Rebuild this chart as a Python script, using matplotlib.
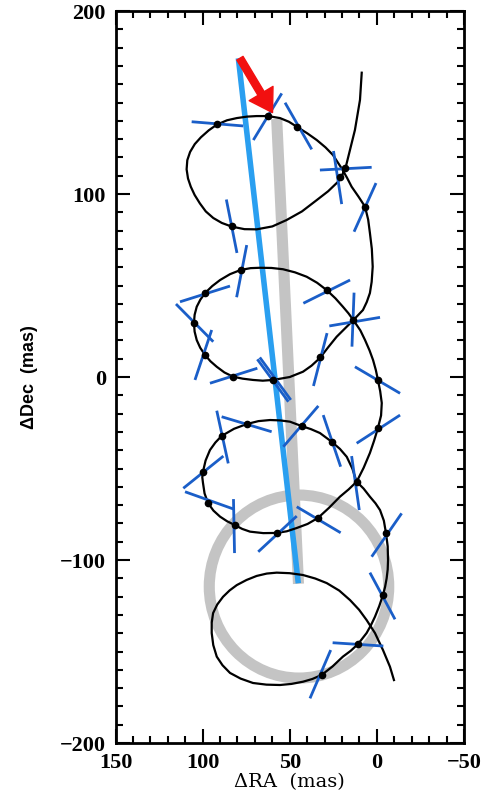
import numpy as np
import matplotlib
matplotlib.use("Agg")
import matplotlib.pyplot as plt
from matplotlib.patches import Ellipse
from matplotlib.ticker import MultipleLocator

# ------------------------------------------------------------
# data (mas)
# ------------------------------------------------------------
# model track (parallax + proper motion + orbit), read point by point
model_ra = [8.7, 9.7, 12.6, 16.4, 18.3, 22.3, 28.0, 34.5, 43.0, 51.8, 60.0, 69.0, 76.0, 83.3,
            89.0, 93.9, 98.2, 101.6, 104.6, 106.8, 108.4, 109.2, 108.8, 107.2, 104.5, 101.0,
            96.5, 91.9, 86.0, 80.4, 74.5, 69.0, 62.5, 55.6, 50.5, 46.0, 40.0, 34.5, 29.5, 25.2,
            20.2, 17.2, 14.5, 10.5, 6.8, 5.0, 4.0, 2.9, 2.4, 3.0, 4.0, 5.8, 8.0, 13.5,
            18.0, 23.1, 28.0, 32.7, 37.5, 42.4, 50.0, 59.6, 65.5, 71.1, 77.0, 82.6, 87.5, 91.9,
            95.5, 98.6, 101.4, 103.4, 104.6, 105.0, 104.6, 103.4, 101.3, 98.6, 94.5, 90.0, 84.3,
            78.2, 72.5, 67.1, 60.5, 53.9, 47.0, 40.3, 34.3, 28.8, 23.8, 19.5, 16.3, 13.5, 9.5,
            6.8, 4.2, 2.2, 0.6, -0.6, -1.9, -2.8, -2.4, -0.6, 1.6, 4.0, 7.6, 11.6,
            16.2, 21.2, 27.5, 33.8, 39.8, 46.0, 51.7, 57.5, 65.2, 72.8, 77.3, 81.5, 86.0, 90.0,
            93.8, 96.9, 98.9, 99.8, 100.2, 99.8, 98.3, 95.8, 92.7, 89.1, 82.0, 74.7, 68.0, 61.3,
            55.6, 49.9, 43.2, 37.8, 32.7, 25.9, 21.2, 17.3, 14.1, 11.6,
            7.6, 4.0, 0.8, -1.8, -4.0, -5.2, -6.2, -6.4, -6.2, -5.6, -4.7, -3.5, -1.3, 1.1, 3.4,
            5.9, 10.8, 15.0, 19.5, 25.5, 31.7, 37.0, 42.4, 49.0, 55.6, 63.4, 71.1, 78.2, 84.3,
            88.6, 91.9, 93.9, 94.8, 94.8, 94.0, 91.6, 88.3, 84.5, 80.4, 74.8, 69.0, 63.2, 57.5,
            50.0, 42.4, 35.4, 28.8, 21.6, 15.4, 10.2, 5.9, 1.1, -3.5, -7.5, -9.8]
model_dec = [166.3, 151.4, 135.0, 120.4, 113.1, 106.7, 101.5, 96.7, 90.5, 85.8, 82.3, 80.7, 80.8,
             82.2, 84.2, 86.9, 90.5, 94.9, 99.5, 104.0, 108.5, 113.5, 118.5, 123.0, 127.3, 131.0,
             134.8, 137.9, 140.3, 141.5, 142.3, 142.6, 142.6, 141.5, 139.5, 136.8, 133.2, 129.5,
             125.5, 121.3, 114.0, 109.0, 104.0, 98.5, 93.1, 86.0, 78.7, 70.0, 60.3, 52.0, 45.9,
             41.0, 36.6, 31.1,
             26.8, 22.0, 16.2, 10.4, 6.2, 2.9, 0.0, -1.6, -2.0, -1.6, -0.9, 0.2, 2.5, 5.6, 8.6,
             12.0, 16.0, 20.2, 24.8, 29.5, 34.0, 38.4, 42.3, 45.9, 49.7, 53.0, 56.2, 58.5, 59.5,
             59.7, 59.6, 58.9, 57.2, 54.8, 51.5, 47.5, 43.0, 38.4, 34.8, 31.1, 25.5, 20.2, 14.5,
             9.3, 3.8, -1.6, -7.8, -14.2, -21.0, -27.9, -34.8, -41.5, -49.6, -57.2,
             -61.4, -65.4, -71.5, -77.0, -80.3, -82.5, -84.3, -85.2, -85.3, -84.5, -83.0, -80.9,
             -78.8, -76.3, -73.0, -68.9, -63.6, -57.9, -54.8, -51.7, -45.6, -39.9, -35.8, -32.2,
             -28.3, -25.7, -24.1, -23.5, -23.7, -24.4, -26.8, -28.5, -30.6, -35.4, -39.3, -43.6,
             -50.0, -57.2,
             -61.0, -65.4, -69.0, -72.7, -78.5, -85.2, -92.5, -100.0, -105.2, -110.0, -114.7,
             -119.1, -125.3, -131.0, -135.6, -139.9, -145.9, -149.6, -152.8, -158.2, -162.8,
             -165.0, -166.5, -167.7, -168.3, -168.1, -167.2, -164.8, -161.7, -157.5, -152.8,
             -146.5, -139.9, -134.3, -129.0, -124.3, -120.1, -116.6, -113.7, -110.9, -108.7,
             -107.4, -106.9, -107.2, -108.2, -110.1, -112.6, -116.7, -121.9, -127.2, -132.8,
             -139.9, -149.2, -158.3, -165.6]

# epochs on the model track
epoch_ra = [91.9, 62.3, 46.0, 18.3, 21.2, 6.8, 83.3, 78.2, 98.6, 105.0, 28.8, 13.5, 98.6, 32.7,
            82.4, 59.5, -0.8, 74.7, 43.2, 89.1, 25.9, -0.8, 99.6, 11.6, 96.7, 81.4, 57.5, 33.6,
            -5.2, -3.7, 10.7, 31.7]
epoch_dec = [138.3, 142.6, 136.8, 114.0, 109.3, 93.1, 82.3, 58.5, 45.7, 29.3, 47.5, 31.1, 12.0,
             11.1, -0.2, -1.6, -1.6, -25.7, -26.8, -32.2, -35.4, -28.0, -51.7, -57.2, -69.0,
             -80.9, -85.4, -77.2, -85.4, -119.1, -145.9, -162.8]

# 1-D measurement bars (start / end)
bar_ra1 = [106.3, 70.9, 52.7, 32.7, 24.9, 0.5, 86.4, 74.7, 113.0, 115.3, 42.2, 13.1, 27.3, 94.8,
           28.6, 95.8, 68.6, 67.2, 12.6, 89.1, 33.6, 91.9, 30.8, -13.3, 111.1, 14.5, 110.1, 82.3,
           68.1, 46.0, -14.2, 4.0, 25.4, 26.5]
bar_dec1 = [139.5, 129.5, 149.9, 113.1, 123.5, 106.0, 97.0, 72.1, 41.1, 39.9, 40.3, 46.1, 27.9,
            25.7, 24.0, -3.4, 9.7, 10.7, 5.6, -21.7, -15.8, -18.4, -20.8, -20.8, -60.8, -43.2,
            -62.7, -66.7, -95.5, -70.9, -74.5, -106.9, -145.2, -149.2]
bar_ra2 = [76.7, 54.6, 37.4, 3.0, 20.2, 13.1, 80.3, 80.5, 84.3, 93.9, 15.4, 14.3, -1.8, 104.4,
           36.4, 68.6, 50.8, 49.4, -13.3, 60.4, 53.7, 85.3, 20.8, 11.6, 88.1, 10.1, 82.4, 81.7,
           46.0, 20.8, 3.0, -10.4, -3.7, 38.4]
bar_dec2 = [137.2, 155.0, 124.4, 114.6, 94.5, 79.4, 67.8, 43.6, 49.7, 19.3, 53.0, 16.6, 32.6,
            -1.6, -4.9, 4.8, -13.5, -12.5, -8.9, -29.9, -38.1, -47.2, -49.0, -36.2, -43.2,
            -72.7, -72.1, -96.2, -76.0, -85.1, -98.2, -132.4, -147.0, -175.6]

# proper motion vectors and the orbit ring
pm_fit_ra = [79.5, 45.1]
pm_fit_dec = [174.2, -112.7]
pm_alt_ra = [57.5, 45.0]
pm_alt_dec = [141.0, -113.0]
ring_center = (44.7, -114.5)
ring_width, ring_height = 103.0, 100.0
arrow_tail = (78.6, 174.2)
arrow_tip = (59.9, 144.5)

# ------------------------------------------------------------
# plot
# ------------------------------------------------------------
fig = plt.figure(figsize=(4.96, 8.05), dpi=100)
ax = fig.add_axes([0.2329, 0.0770, 0.7026, 0.9093])

ax.add_patch(Ellipse(ring_center, ring_width, ring_height, fill=False,
                     edgecolor="#c4c4c4", lw=8, zorder=1))
ax.plot(pm_alt_ra, pm_alt_dec, color="#c4c4c4", lw=8, solid_capstyle="butt", zorder=1)
ax.plot(pm_fit_ra, pm_fit_dec, color="#2a9ff0", lw=4, solid_capstyle="butt", zorder=2)

ax.plot(model_ra, model_dec, color="black", lw=1.6, zorder=3,
        solid_joinstyle="round", antialiased=True)

for x1, y1, x2, y2 in zip(bar_ra1, bar_dec1, bar_ra2, bar_dec2):
    ax.plot([x1, x2], [y1, y2], color="#1a5ec8", lw=2.0, solid_capstyle="butt", zorder=4)

ax.plot(epoch_ra, epoch_dec, "o", color="black", ms=4.5, zorder=5)

ax.annotate("", xy=arrow_tip, xytext=arrow_tail,
            arrowprops=dict(arrowstyle="simple,head_length=0.8,head_width=1.0,tail_width=0.26",
                            color="#f21010", mutation_scale=20, shrinkA=0, shrinkB=0),
            zorder=6)

ax.set_xlim(150, -50)
ax.set_ylim(-200, 200)
ax.xaxis.set_major_locator(MultipleLocator(50))
ax.xaxis.set_minor_locator(MultipleLocator(10))
ax.yaxis.set_major_locator(MultipleLocator(100))
ax.yaxis.set_minor_locator(MultipleLocator(10))
ax.tick_params(which="both", direction="in", top=True, right=True, width=1.5)
ax.tick_params(which="major", length=10, pad=7)
ax.tick_params(which="minor", length=5)
for sp in ax.spines.values():
    sp.set_linewidth(2)

for lab in ax.get_xticklabels() + ax.get_yticklabels():
    lab.set_fontfamily("Liberation Serif")
    lab.set_fontweight("bold")
    lab.set_fontsize(16)

ax.set_xlabel("\u0394RA  (mas)", family="DejaVu Serif", fontsize=14, labelpad=0)
ax.set_ylabel("\u0394Dec  (mas)", family="Liberation Sans", fontweight="bold", fontsize=13,
              labelpad=16)

fig.savefig("out.png", dpi=100)
